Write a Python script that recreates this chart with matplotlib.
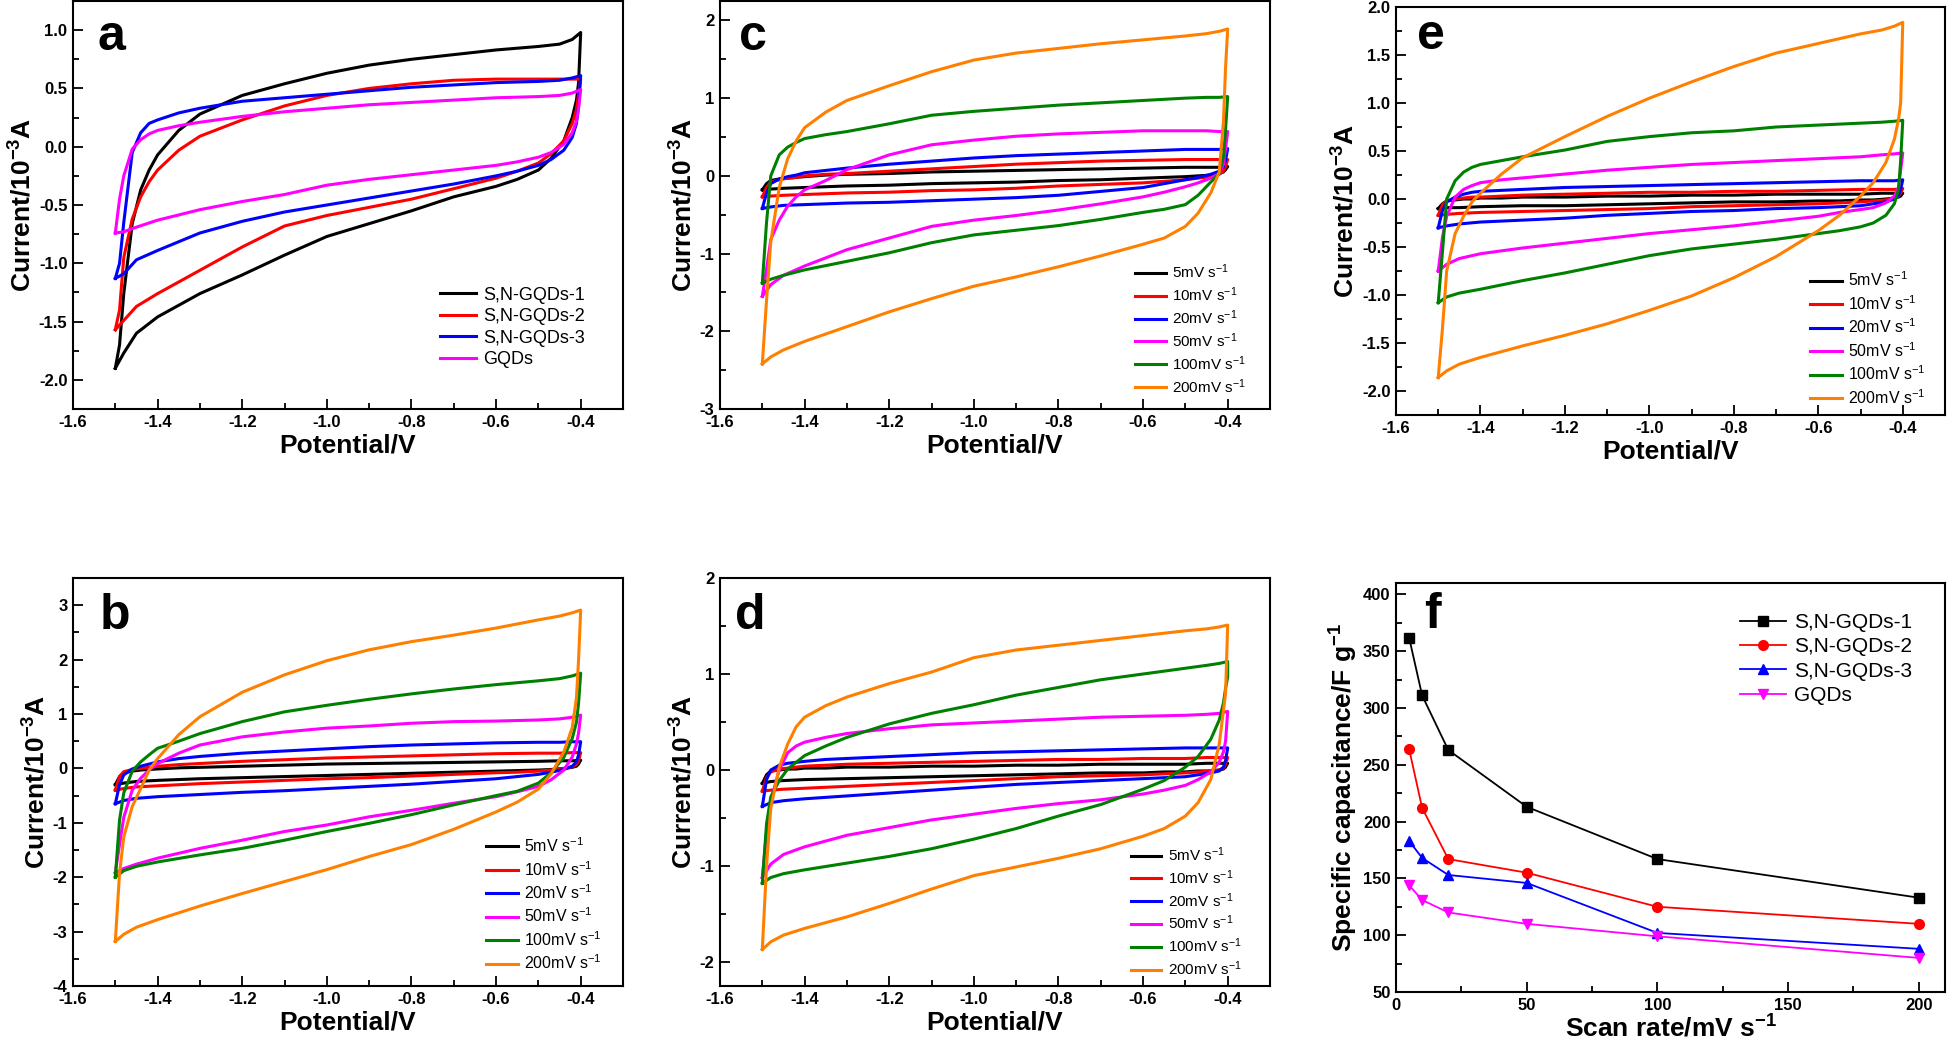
import numpy as np
import matplotlib
matplotlib.use('Agg')
import matplotlib.pyplot as plt
from matplotlib.ticker import MultipleLocator, FormatStrFormatter

plt.rcParams['font.family'] = ['Liberation Sans', 'DejaVu Sans']
plt.rcParams['font.weight'] = 'bold'
plt.rcParams['axes.labelweight'] = 'bold'
plt.rcParams['axes.unicode_minus'] = False
plt.rcParams['mathtext.default'] = 'regular'
plt.rcParams['axes.linewidth'] = 1.5

# potential grid of the forward (anodic) and reverse (cathodic) sweep, V
E_FWD = [-1.50, -1.49, -1.48, -1.46, -1.44, -1.42, -1.40, -1.35, -1.30, -1.20,
         -1.10, -1.00, -0.90, -0.80, -0.70, -0.60, -0.50, -0.45, -0.42, -0.40]
E_REV = [-0.40, -0.405, -0.41, -0.42, -0.44, -0.47, -0.50, -0.55, -0.60, -0.70,
         -0.80, -0.90, -1.00, -1.10, -1.20, -1.30, -1.40, -1.45, -1.48, -1.50]

samples = ['S,N-GQDs-1', 'S,N-GQDs-2', 'S,N-GQDs-3', 'GQDs']
sample_colors = ['#000000', '#ff0000', '#0000ff', '#ff00ff']
rates_lbl = ['5mV s$^{-1}$', '10mV s$^{-1}$', '20mV s$^{-1}$',
             '50mV s$^{-1}$', '100mV s$^{-1}$', '200mV s$^{-1}$']
rate_colors = ['#000000', '#ff0000', '#0000ff', '#ff00ff', '#008000', '#ff8000']

# (a) all samples, current in 1e-3 A
a_fwd = [
    [-1.90, -1.70, -1.26, -0.66, -0.37, -0.20, -0.07, 0.14, 0.28, 0.44, 0.54, 0.63, 0.70, 0.75, 0.79, 0.83, 0.86, 0.88, 0.92, 0.98],
    [-1.57, -1.40, -0.95, -0.62, -0.43, -0.30, -0.20, -0.03, 0.09, 0.23, 0.35, 0.44, 0.50, 0.54, 0.57, 0.58, 0.58, 0.58, 0.58, 0.58],
    [-1.13, -1.00, -0.65, -0.05, 0.12, 0.20, 0.23, 0.29, 0.33, 0.39, 0.42, 0.45, 0.48, 0.51, 0.53, 0.55, 0.56, 0.57, 0.59, 0.61],
    [-0.74, -0.45, -0.25, -0.02, 0.06, 0.11, 0.14, 0.18, 0.21, 0.26, 0.30, 0.33, 0.36, 0.38, 0.40, 0.42, 0.43, 0.44, 0.46, 0.49],
]
a_rev = [
    [0.98, 0.55, 0.40, 0.25, 0.05, -0.10, -0.20, -0.28, -0.34, -0.43, -0.55, -0.66, -0.77, -0.93, -1.10, -1.26, -1.46, -1.60, -1.77, -1.90],
    [0.58, 0.45, 0.32, 0.20, 0.05, -0.06, -0.14, -0.21, -0.27, -0.36, -0.45, -0.52, -0.59, -0.68, -0.86, -1.06, -1.26, -1.37, -1.49, -1.57],
    [0.61, 0.35, 0.20, 0.08, -0.03, -0.11, -0.16, -0.21, -0.25, -0.32, -0.38, -0.44, -0.50, -0.56, -0.64, -0.74, -0.89, -0.97, -1.09, -1.13],
    [0.49, 0.33, 0.22, 0.12, 0.02, -0.05, -0.09, -0.13, -0.16, -0.20, -0.24, -0.28, -0.33, -0.41, -0.47, -0.54, -0.63, -0.69, -0.73, -0.74],
]

# (b) scan rates 5..200 mV/s
b_fwd = [
    [-0.30, -0.15, -0.08, -0.05, -0.03, -0.02, -0.01, 0.01, 0.02, 0.04, 0.06, 0.08, 0.09, 0.10, 0.11, 0.12, 0.13, 0.14, 0.14, 0.15],
    [-0.40, -0.15, -0.06, -0.02, 0.00, 0.02, 0.04, 0.07, 0.09, 0.13, 0.16, 0.19, 0.21, 0.23, 0.25, 0.27, 0.28, 0.28, 0.29, 0.29],
    [-0.65, -0.30, -0.12, -0.01, 0.04, 0.08, 0.12, 0.18, 0.22, 0.28, 0.32, 0.36, 0.40, 0.43, 0.45, 0.47, 0.48, 0.48, 0.49, 0.49],
    [-1.92, -1.40, -0.90, -0.40, -0.18, -0.03, 0.09, 0.28, 0.43, 0.58, 0.67, 0.74, 0.78, 0.83, 0.86, 0.87, 0.89, 0.91, 0.94, 0.98],
    [-2.00, -0.95, -0.45, -0.05, 0.12, 0.25, 0.37, 0.50, 0.64, 0.86, 1.04, 1.16, 1.27, 1.37, 1.46, 1.54, 1.61, 1.65, 1.70, 1.75],
    [-3.18, -1.93, -1.26, -0.70, -0.37, -0.03, 0.18, 0.62, 0.95, 1.40, 1.72, 1.98, 2.18, 2.33, 2.45, 2.58, 2.73, 2.80, 2.86, 2.91],
]
b_rev = [
    [0.15, 0.08, 0.04, 0.02, 0.00, -0.02, -0.03, -0.04, -0.05, -0.07, -0.09, -0.11, -0.13, -0.15, -0.17, -0.19, -0.22, -0.24, -0.27, -0.30],
    [0.29, 0.14, 0.07, 0.03, 0.00, -0.03, -0.05, -0.07, -0.08, -0.11, -0.14, -0.17, -0.19, -0.22, -0.25, -0.28, -0.32, -0.34, -0.37, -0.40],
    [0.49, 0.25, 0.12, 0.04, -0.02, -0.07, -0.11, -0.15, -0.19, -0.24, -0.29, -0.33, -0.37, -0.41, -0.44, -0.48, -0.52, -0.55, -0.59, -0.65],
    [0.98, 0.65, 0.45, 0.21, -0.03, -0.21, -0.33, -0.43, -0.52, -0.64, -0.77, -0.89, -1.04, -1.16, -1.32, -1.47, -1.65, -1.76, -1.84, -1.92],
    [1.75, 1.20, 0.85, 0.55, 0.20, -0.08, -0.27, -0.42, -0.50, -0.67, -0.85, -1.01, -1.16, -1.32, -1.47, -1.59, -1.72, -1.80, -1.88, -2.00],
    [2.91, 2.00, 1.30, 0.75, 0.30, -0.10, -0.38, -0.62, -0.80, -1.12, -1.40, -1.62, -1.86, -2.08, -2.30, -2.53, -2.78, -2.92, -3.05, -3.18],
]

# (c)
c_fwd = [
    [-0.18, -0.10, -0.06, -0.04, -0.03, -0.02, -0.01, 0.01, 0.02, 0.03, 0.05, 0.06, 0.07, 0.08, 0.09, 0.10, 0.11, 0.11, 0.11, 0.12],
    [-0.27, -0.15, -0.08, -0.05, -0.03, -0.02, 0.00, 0.02, 0.03, 0.06, 0.09, 0.12, 0.15, 0.17, 0.19, 0.20, 0.21, 0.21, 0.21, 0.21],
    [-0.42, -0.22, -0.10, -0.04, -0.01, 0.01, 0.04, 0.07, 0.10, 0.15, 0.19, 0.23, 0.26, 0.28, 0.30, 0.32, 0.34, 0.34, 0.34, 0.35],
    [-1.55, -1.20, -0.82, -0.57, -0.39, -0.27, -0.18, -0.06, 0.08, 0.27, 0.40, 0.46, 0.51, 0.54, 0.56, 0.58, 0.58, 0.58, 0.57, 0.57],
    [-1.38, -0.60, 0.00, 0.27, 0.37, 0.43, 0.48, 0.53, 0.57, 0.67, 0.78, 0.83, 0.87, 0.91, 0.94, 0.97, 1.00, 1.01, 1.01, 1.02],
    [-2.42, -1.60, -0.85, -0.15, 0.22, 0.45, 0.62, 0.82, 0.97, 1.16, 1.34, 1.49, 1.58, 1.64, 1.70, 1.75, 1.80, 1.83, 1.86, 1.89],
]
c_rev = [
    [0.12, 0.08, 0.05, 0.03, 0.01, 0.00, -0.01, -0.02, -0.03, -0.05, -0.06, -0.08, -0.09, -0.10, -0.12, -0.13, -0.15, -0.16, -0.17, -0.18],
    [0.21, 0.12, 0.06, 0.02, -0.01, -0.03, -0.05, -0.07, -0.09, -0.11, -0.13, -0.16, -0.18, -0.19, -0.21, -0.22, -0.24, -0.25, -0.26, -0.27],
    [0.35, 0.20, 0.12, 0.06, 0.02, -0.02, -0.05, -0.10, -0.15, -0.20, -0.25, -0.28, -0.30, -0.32, -0.34, -0.35, -0.37, -0.38, -0.40, -0.42],
    [0.57, 0.35, 0.15, 0.03, -0.03, -0.09, -0.14, -0.21, -0.27, -0.36, -0.44, -0.51, -0.57, -0.65, -0.80, -0.95, -1.16, -1.28, -1.40, -1.55],
    [1.02, 0.60, 0.25, 0.03, -0.08, -0.25, -0.37, -0.43, -0.47, -0.56, -0.64, -0.70, -0.76, -0.86, -0.99, -1.10, -1.21, -1.28, -1.33, -1.38],
    [1.89, 1.40, 0.70, 0.05, -0.22, -0.48, -0.65, -0.80, -0.88, -1.03, -1.17, -1.30, -1.42, -1.58, -1.75, -1.94, -2.13, -2.24, -2.33, -2.42],
]

# (d)
d_fwd = [
    [-0.14, -0.05, -0.01, 0.00, 0.01, 0.01, 0.02, 0.02, 0.03, 0.03, 0.04, 0.04, 0.05, 0.05, 0.06, 0.06, 0.06, 0.07, 0.07, 0.07],
    [-0.22, -0.08, -0.02, 0.01, 0.02, 0.03, 0.04, 0.05, 0.06, 0.07, 0.08, 0.09, 0.10, 0.11, 0.11, 0.12, 0.12, 0.13, 0.13, 0.13],
    [-0.38, -0.10, 0.00, 0.05, 0.07, 0.08, 0.09, 0.11, 0.12, 0.14, 0.16, 0.18, 0.19, 0.20, 0.21, 0.22, 0.23, 0.23, 0.23, 0.23],
    [-1.12, -0.65, -0.32, 0.00, 0.18, 0.25, 0.29, 0.34, 0.38, 0.43, 0.47, 0.49, 0.51, 0.53, 0.55, 0.56, 0.57, 0.58, 0.59, 0.61],
    [-1.18, -0.56, -0.28, -0.11, 0.01, 0.08, 0.15, 0.25, 0.34, 0.48, 0.59, 0.68, 0.78, 0.86, 0.94, 1.00, 1.06, 1.09, 1.11, 1.13],
    [-1.87, -1.00, -0.40, 0.03, 0.27, 0.45, 0.55, 0.67, 0.76, 0.90, 1.02, 1.17, 1.25, 1.30, 1.35, 1.40, 1.45, 1.47, 1.49, 1.51],
]
d_rev = [
    [0.07, 0.03, 0.01, 0.00, -0.01, -0.01, -0.02, -0.02, -0.03, -0.03, -0.04, -0.05, -0.06, -0.07, -0.08, -0.09, -0.10, -0.11, -0.12, -0.14],
    [0.13, 0.06, 0.02, 0.00, -0.01, -0.02, -0.03, -0.04, -0.05, -0.06, -0.07, -0.09, -0.11, -0.13, -0.15, -0.17, -0.19, -0.20, -0.21, -0.22],
    [0.23, 0.10, 0.03, -0.01, -0.03, -0.05, -0.07, -0.08, -0.09, -0.11, -0.13, -0.15, -0.18, -0.21, -0.24, -0.27, -0.30, -0.32, -0.34, -0.38],
    [0.61, 0.30, 0.19, 0.08, -0.02, -0.10, -0.16, -0.21, -0.25, -0.31, -0.35, -0.40, -0.46, -0.52, -0.60, -0.68, -0.80, -0.88, -0.98, -1.12],
    [0.97, 0.85, 0.70, 0.52, 0.32, 0.14, 0.03, -0.11, -0.20, -0.36, -0.48, -0.61, -0.72, -0.82, -0.90, -0.97, -1.04, -1.08, -1.12, -1.18],
    [1.51, 0.80, 0.62, 0.27, -0.10, -0.34, -0.48, -0.61, -0.69, -0.82, -0.92, -1.01, -1.10, -1.24, -1.39, -1.53, -1.65, -1.72, -1.79, -1.87],
]

# (e)
e_fwd = [
    [-0.10, -0.05, -0.02, -0.01, 0.00, 0.00, 0.01, 0.01, 0.02, 0.02, 0.03, 0.03, 0.04, 0.04, 0.05, 0.05, 0.05, 0.06, 0.06, 0.06],
    [-0.17, -0.06, -0.02, 0.00, 0.01, 0.02, 0.02, 0.03, 0.04, 0.05, 0.06, 0.07, 0.07, 0.08, 0.08, 0.09, 0.10, 0.10, 0.10, 0.11],
    [-0.30, -0.12, -0.03, 0.02, 0.05, 0.07, 0.08, 0.09, 0.10, 0.12, 0.13, 0.14, 0.15, 0.16, 0.17, 0.18, 0.19, 0.19, 0.19, 0.20],
    [-0.75, -0.40, -0.18, 0.02, 0.10, 0.14, 0.17, 0.20, 0.22, 0.26, 0.30, 0.33, 0.36, 0.38, 0.40, 0.42, 0.44, 0.46, 0.47, 0.48],
    [-1.08, -0.55, 0.00, 0.19, 0.28, 0.33, 0.36, 0.40, 0.44, 0.51, 0.60, 0.65, 0.69, 0.71, 0.75, 0.77, 0.79, 0.80, 0.81, 0.82],
    [-1.86, -1.35, -0.75, -0.36, -0.18, -0.03, 0.06, 0.26, 0.43, 0.65, 0.86, 1.05, 1.22, 1.38, 1.52, 1.62, 1.72, 1.76, 1.80, 1.84],
]
e_rev = [
    [0.06, 0.03, 0.02, 0.01, 0.00, -0.01, -0.01, -0.02, -0.02, -0.03, -0.03, -0.04, -0.05, -0.06, -0.07, -0.07, -0.08, -0.09, -0.09, -0.10],
    [0.11, 0.06, 0.03, 0.01, -0.01, -0.02, -0.03, -0.04, -0.05, -0.06, -0.07, -0.08, -0.10, -0.11, -0.12, -0.13, -0.14, -0.15, -0.16, -0.17],
    [0.20, 0.10, 0.04, 0.00, -0.03, -0.05, -0.07, -0.08, -0.09, -0.10, -0.12, -0.13, -0.15, -0.17, -0.20, -0.22, -0.24, -0.26, -0.28, -0.30],
    [0.48, 0.30, 0.12, 0.03, -0.04, -0.09, -0.11, -0.14, -0.18, -0.23, -0.28, -0.32, -0.36, -0.41, -0.46, -0.51, -0.57, -0.62, -0.68, -0.75],
    [0.82, 0.40, 0.10, -0.05, -0.17, -0.25, -0.29, -0.33, -0.36, -0.42, -0.47, -0.52, -0.59, -0.68, -0.77, -0.85, -0.94, -0.98, -1.02, -1.08],
    [1.84, 1.00, 0.83, 0.62, 0.38, 0.17, 0.03, -0.17, -0.33, -0.60, -0.82, -1.01, -1.16, -1.30, -1.42, -1.53, -1.65, -1.72, -1.79, -1.86],
]

# (f) specific capacitance vs scan rate
scan_rate = [5, 10, 20, 50, 100, 200]
cap_s1 = [362, 311, 263, 213, 167, 133]
cap_s2 = [264, 212, 167, 155, 125, 110]
cap_s3 = [183, 168, 153, 146, 102, 88]
cap_gqds = [144, 131, 120, 110, 99, 80]

W, H = 1947, 1039
fig = plt.figure(figsize=(W / 100, H / 100), dpi=100)


def box(x0, y_top, w=550, h=408):
    return [x0 / W, 1 - (y_top + h) / H, w / W, h / H]


def style(ax):
    ax.tick_params(which='both', direction='in', top=False, right=False, labelsize=12, pad=4)
    ax.tick_params(which='major', length=7, width=1.3)
    ax.tick_params(which='minor', length=4, width=1.3)


def cv_panel(rect, fwd, rev, colors, labels, ylim, ystep, yfmt, letter, let_xy, leg_xy, leg_fs, leg_sp):
    ax = fig.add_axes(rect)
    for f, r, c, lab in zip(fwd, rev, colors, labels):
        ee = np.concatenate([E_FWD, E_REV, E_FWD[:1]])
        ii = np.concatenate([f, r, f[:1]])
        ax.plot(ee, ii, color=c, lw=2.2, label=lab, solid_joinstyle='round')
    ax.set_xlim(-1.6, -0.3)
    ax.set_ylim(*ylim)
    ax.xaxis.set_major_locator(MultipleLocator(0.2))
    ax.xaxis.set_minor_locator(MultipleLocator(0.1))
    ax.xaxis.set_major_formatter(FormatStrFormatter('%.1f'))
    ax.yaxis.set_major_locator(MultipleLocator(ystep))
    ax.yaxis.set_minor_locator(MultipleLocator(ystep / 2))
    ax.yaxis.set_major_formatter(FormatStrFormatter(yfmt))
    style(ax)
    ax.set_xlabel('Potential/V', fontsize=19, labelpad=3)
    ax.set_ylabel('Current/10$^{-3}$A', fontsize=19, labelpad=2)
    ax.text(let_xy[0], let_xy[1], letter, transform=ax.transAxes, fontsize=36,
            fontweight='bold', va='baseline', ha='left')
    ax.legend(loc='center left', bbox_to_anchor=leg_xy, frameon=False, borderpad=0,
              borderaxespad=0, handlelength=2.0, handletextpad=0.4, labelspacing=leg_sp,
              prop={'weight': 'normal', 'size': leg_fs})
    return ax


cv_panel(box(73, 1), a_fwd, a_rev, sample_colors, samples, (-2.25, 1.25), 0.5, '%.1f',
         'a', (0.045, 0.88), (0.667, 0.2), 13, 0.25)
cv_panel(box(720, 1), c_fwd, c_rev, rate_colors, rates_lbl, (-3, 2.25), 1, '%d',
         'c', (0.035, 0.88), (0.755, 0.196), 11, 0.28)
cv_panel(box(1396, 7, w=549), e_fwd, e_rev, rate_colors, rates_lbl, (-2.25, 2.0), 0.5, '%.1f',
         'e', (0.039, 0.896), (0.754, 0.187), 11.5, 0.3)
cv_panel(box(73, 578), b_fwd, b_rev, rate_colors, rates_lbl, (-4, 3.5), 1, '%d',
         'b', (0.048, 0.874), (0.751, 0.2), 11.5, 0.3)
cv_panel(box(720, 578), d_fwd, d_rev, rate_colors, rates_lbl, (-2.25, 2.0), 1, '%d',
         'd', (0.027, 0.874), (0.747, 0.182), 11, 0.28)

# (f)
axf = fig.add_axes(box(1396, 583, w=549, h=409))
for vals, c, m, lab in zip([cap_s1, cap_s2, cap_s3, cap_gqds], sample_colors,
                           ['s', 'o', '^', 'v'], samples):
    axf.plot(scan_rate, vals, color=c, marker=m, ms=7, lw=1.3, label=lab)
axf.set_xlim(0, 210)
axf.set_ylim(50, 410)
axf.xaxis.set_major_locator(MultipleLocator(50))
axf.xaxis.set_minor_locator(MultipleLocator(25))
axf.yaxis.set_major_locator(MultipleLocator(50))
axf.yaxis.set_minor_locator(MultipleLocator(25))
style(axf)
axf.set_xlabel('Scan rate/mV s$^{-1}$', fontsize=19, labelpad=2)
axf.set_ylabel('Specific capacitance/F g$^{-1}$', fontsize=19, labelpad=2)
axf.text(0.051, 0.889, 'f', transform=axf.transAxes, fontsize=36, fontweight='bold',
         va='baseline', ha='left')
axf.legend(loc='center left', bbox_to_anchor=(0.627, 0.814), frameon=False, borderpad=0,
           borderaxespad=0, handlelength=2.2, handletextpad=0.4, labelspacing=0.25,
           prop={'weight': 'normal', 'size': 15})

fig.savefig('out.png', dpi=100)
